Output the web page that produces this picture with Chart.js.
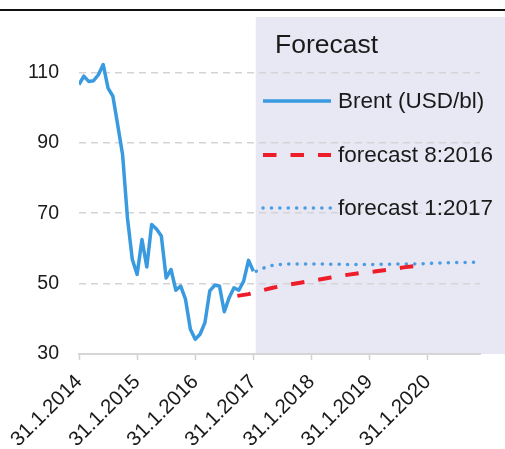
<!DOCTYPE html>
<html>
<head>
<meta charset="utf-8">
<script src="https://cdn.jsdelivr.net/npm/chart.js@4/dist/chart.umd.min.js"></script>
<style>
  html, body { margin: 0; padding: 0; background: #fff; }
  canvas { display: block; }
</style>
</head>
<body>
<canvas id="oil-chart" width="505" height="449"></canvas>
<script>
// months counted from Jan 2014 (0 = 31.1.2014)
var brentValues = [106.5, 108.9, 107.4, 107.6, 109.3, 112.2, 105.5, 103.2, 95.0, 86.6,
    68.7, 56.9, 52.6, 62.5, 54.7, 66.8, 65.5, 63.5, 51.6, 54.0,
    48.1, 49.3, 45.5, 37.0, 34.2, 35.6, 38.9, 47.9, 49.5, 49.3,
    42.0, 46.0, 48.8, 48.1, 50.7, 56.6, 53.5];

var fc2016Months = [32.7, 35, 37, 40, 43, 46, 49, 52, 55, 58, 61, 64, 67, 70.5];
var fc2016Values = [46.5, 47.0, 47.8, 48.8, 49.6, 50.3, 51.0, 51.7, 52.4, 53.0, 53.4, 54.0, 54.6, 55.1];

var fc2017Months = [36.6, 38.3, 40, 42, 46, 52, 58, 64, 70, 76, 82.7];
var fc2017Values = [53.5, 54.5, 55.2, 55.5, 55.6, 55.5, 55.4, 55.5, 55.6, 55.9, 56.1];

var yTickValues = [30, 50, 70, 90, 110];
var xTickMonths = [0, 12, 24, 36, 48, 60, 72];
var xTickLabels = ['31.1.2014', '31.1.2015', '31.1.2016', '31.1.2017', '31.1.2018', '31.1.2019', '31.1.2020'];

var seriesNames = ['Brent (USD/bl)', 'forecast 8:2016', 'forecast 1:2017'];
var legendTitle = 'Forecast';
var forecastStart = 36.5;

var FONT = "'Liberation Sans', Arial, Helvetica, sans-serif";

function pairs(xs, ys){
    var out = [];
    for (var i = 0; i < ys.length; i++) out.push({x: xs ? xs[i] : i, y: ys[i]});
    return out;
}

var decor = {
    id: 'decor',
    beforeDraw: function(chart){
        var ctx = chart.ctx, a = chart.chartArea;
        var x0 = chart.scales.x.getPixelForValue(forecastStart);
        ctx.save();
        ctx.fillStyle = '#e8e8f4';
        ctx.fillRect(x0, a.top, chart.width - x0, a.bottom - a.top);
        ctx.fillStyle = '#111';
        ctx.fillRect(0, 9, chart.width, 2);
        ctx.restore();
    },
    afterDraw: function(chart){
        var ctx = chart.ctx;
        ctx.save();
        ctx.fillStyle = '#1a1a1a';
        ctx.textBaseline = 'alphabetic';
        ctx.font = '26.5px ' + FONT;
        ctx.fillText(legendTitle, 275, 53);
        var rows = [101, 155, 208];
        ctx.font = '22.5px ' + FONT;
        ctx.textBaseline = 'middle';
        chart.data.datasets.forEach(function(ds, i){
            var y = rows[i];
            ctx.save();
            ctx.strokeStyle = ds.borderColor;
            ctx.lineWidth = ds.borderWidth;
            ctx.lineCap = ds.borderCapStyle || 'butt';
            ctx.setLineDash(ds.borderDash || []);
            ctx.beginPath();
            ctx.moveTo(263, y);
            ctx.lineTo(331, y);
            ctx.stroke();
            ctx.restore();
            ctx.fillText(ds.label, 338, y + 1);
        });
        ctx.restore();
    }
};

new Chart(document.getElementById('oil-chart'), {
    type: 'line',
    data: {
        datasets: [
            {
                label: seriesNames[0],
                data: pairs(null, brentValues),
                borderColor: '#3a9ae0',
                borderWidth: 3.5,
                borderJoinStyle: 'round',
                pointRadius: 0
            },
            {
                label: seriesNames[1],
                data: pairs(fc2016Months, fc2016Values),
                borderColor: '#ee1d2a',
                borderWidth: 4,
                borderDash: [13.5, 14],
                pointRadius: 0
            },
            {
                label: seriesNames[2],
                data: pairs(fc2017Months, fc2017Values),
                borderColor: '#4a9de2',
                borderWidth: 3.5,
                borderDash: [0.1, 8.3],
                borderCapStyle: 'round',
                pointRadius: 0
            }
        ]
    },
    options: {
        responsive: false,
        animation: false,
        devicePixelRatio: 1,
        layout: { padding: { top: 17, right: 25, left: 0, bottom: 0 } },
        plugins: {
            legend: { display: false },
            tooltip: { enabled: false }
        },
        scales: {
            x: {
                type: 'linear',
                min: 0,
                max: 82.8,
                afterFit: function(s){ s.height = 95; },
                afterBuildTicks: function(s){
                    s.ticks = xTickMonths.map(function(v){ return {value: v}; });
                },
                ticks: {
                    minRotation: 45,
                    maxRotation: 45,
                    padding: 10,
                    color: '#1a1a1a',
                    font: { size: 20.5, family: FONT },
                    callback: function(v){ return xTickLabels[xTickMonths.indexOf(v)]; }
                },
                grid: {
                    drawOnChartArea: false,
                    drawTicks: true,
                    tickLength: 6,
                    tickColor: '#d2d2d2',
                    tickWidth: 1.5
                },
                border: { color: '#d6d6d6', width: 2 }
            },
            y: {
                min: 30,
                max: 125.7,
                afterFit: function(s){
                    s.width = 79;
                    s.paddingTop = 0;
                    s.paddingBottom = 0;
                },
                afterBuildTicks: function(s){
                    s.ticks = yTickValues.map(function(v){ return {value: v}; });
                },
                ticks: {
                    padding: 20,
                    color: '#1a1a1a',
                    font: { size: 19.5, family: FONT }
                },
                grid: {
                    drawTicks: false,
                    lineWidth: 1.5,
                    color: function(c){ return c.tick && c.tick.value === 30 ? 'rgba(0,0,0,0)' : '#d4d4d8'; }
                },
                border: { display: false, dash: [7, 5] }
            }
        }
    },
    plugins: [decor]
});
</script>
</body>
</html>
